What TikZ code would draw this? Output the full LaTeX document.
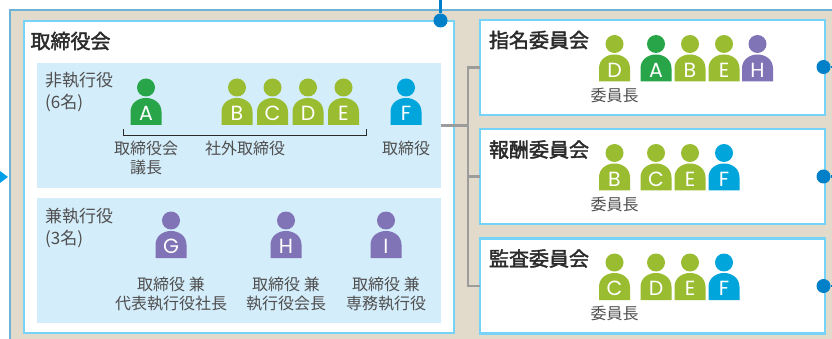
\documentclass[tikz,border=0pt]{standalone}
\usepackage{fontspec}
\setmainfont{Noto Sans CJK JP}
\newfontfamily\titlefont[FakeBold=2]{Noto Sans CJK JP}
\newfontfamily\letterfont{Poppins}
\definecolor{beige}{HTML}{E2DBCB}
\definecolor{edgeblue}{HTML}{6DB3D8}
\definecolor{frameblue}{HTML}{74D3F6}
\definecolor{panelblue}{HTML}{D4EDFA}
\definecolor{dotblue}{HTML}{0080C8}
\definecolor{arrowblue}{HTML}{00A0E9}
\definecolor{linegrey}{HTML}{9C9C9C}
\definecolor{txtgrey}{HTML}{4F4F4F}
\definecolor{txtdark}{HTML}{2B2B2B}
\definecolor{pgreen}{HTML}{28A548}
\definecolor{plime}{HTML}{99BC31}
\definecolor{pcyan}{HTML}{00A5DB}
\definecolor{ppurple}{HTML}{8073B6}
\tikzset{
  framebox/.style={draw=frameblue,line width=2.4pt,fill=white,minimum width=#1,inner sep=0pt,outer sep=0pt},
  panelbox/.style={fill=panelblue,draw=none,minimum width=404pt,inner sep=0pt,outer sep=0pt},
  title/.style={font=\titlefont\fontsize{20}{24}\selectfont,text=txtdark,inner sep=0pt},
  label/.style={font=\fontsize{16}{20}\selectfont,text=txtgrey,inner sep=0pt,align=center},
  grouplabel/.style={font=\fontsize{17}{22}\selectfont,text=txtgrey,inner sep=0pt,align=left,anchor=north west},
  letter/.style={font=\letterfont\fontsize{20.5}{22}\selectfont,text=white,inner sep=0pt},
  link/.style={draw=linegrey,line width=2.3pt},
  dot/.style={circle,fill=dotblue,minimum size=14pt,inner sep=0pt,outer sep=0pt},
  feed/.style={draw=dotblue,line width=2.2pt},
  bracket/.style={draw=txtdark,line width=0.9pt}
}
% name, x, y of body bottom, letter, colour
\newcommand{\person}[5]{%
  \fill[#5] (#2,#3-37.5) circle[radius=9];
  \fill[#5] (#2-15.5,#3) -- (#2-15.5,#3-13) .. controls (#2-15.5,#3-22) and (#2-8,#3-27) .. (#2,#3-27)
     .. controls (#2+8,#3-27) and (#2+15.5,#3-22) .. (#2+15.5,#3-13) -- (#2+15.5,#3) -- cycle;
  \node[letter] (#1) at (#2,#3-11.5) {#4};
}
\begin{document}
\begin{tikzpicture}[x=1pt,y=-1pt]
\useasboundingbox (0,0) rectangle (832,339);
\fill[beige] (10,10) rectangle (832,339);
\draw[edgeblue,line width=1.3pt] (832,10) -- (10,10) -- (10,339);
% boxes
\node[framebox=430pt,minimum height=312pt] (board) at (239,177) {};
\node[framebox=345pt,minimum height=95pt] (nom) at (652.5,67.5) {};
\node[framebox=345pt,minimum height=95pt] (pay) at (652.5,176.5) {};
\node[framebox=345pt,minimum height=95pt] (audit) at (652.5,286) {};
\node[panelbox,minimum height=125pt] (panelA) at (239,125.5) {};
\node[panelbox,minimum height=125pt] (panelB) at (239,260.5) {};
% connectors
\coordinate (trunk) at (468,125.5);
\draw[link] (panelA.east) -- (trunk);
\draw[link] (nom.west) -- (trunk |- nom.west) -- (trunk |- audit.west) -- (audit.west);
\draw[link] (pay.west) -- (trunk |- pay.west);
% dots and feeds
\coordinate (topend) at (440.5,0);
\node[dot] (dotTop) at (440.5,20.5) {};
\draw[feed] (topend) -- (dotTop);
\node[dot] (dotNom) at (823.5,67) {};
\node[dot] (dotPay) at (823.5,176.5) {};
\node[dot] (dotAudit) at (823.5,286) {};
\coordinate (endNom) at (832,67);
\coordinate (endPay) at (832,176.5);
\coordinate (endAudit) at (832,286);
\draw[feed] (dotNom) -- (endNom);
\draw[feed] (dotPay) -- (endPay);
\draw[feed] (dotAudit) -- (endAudit);
\fill[arrowblue] (0,171) -- (8,177) -- (0,183) -- cycle;
% titles
\node[title] (tBoard) at (70.5,41) {取締役会};
\node[title] (tNom) at (539,40) {指名委員会};
\node[title] (tPay) at (539,149.5) {報酬委員会};
\node[title] (tAudit) at (539,258.5) {監査委員会};
\node[grouplabel] (gA) at (45,72.5) {非執行役\\(6名)};
\node[grouplabel] (gB) at (45,207.5) {兼執行役\\(3名)};
% people in the board
\person{pA}{146}{125}{A}{pgreen}
\person{pB}{237}{125}{B}{plime}
\person{pC}{272.5}{125}{C}{plime}
\person{pD}{308}{125}{D}{plime}
\person{pE}{343.5}{125}{E}{plime}
\person{pF}{406}{125}{F}{pcyan}
\person{pG}{171}{258}{G}{ppurple}
\person{pH}{286}{258}{H}{ppurple}
\person{pI}{386}{258}{I}{ppurple}
\coordinate (brL) at (123.5,129);
\coordinate (brR) at (366,129);
\draw[bracket] (brL) -- ++(0,6.5) -| (brR);
\node[label] (lA) at (146,158) {取締役会\\[-1pt]議長};
\node[label] (lOut) at (245,148) {社外取締役};
\node[label] (lF) at (406,148) {取締役};
\node[label] (lG) at (171,294) {取締役 兼\\[-1pt]代表執行役社長};
\node[label] (lH) at (286,294) {取締役 兼\\[-1pt]執行役会長};
\node[label] (lI) at (386,294) {取締役 兼\\[-1pt]専務執行役};
% committees
\person{nD}{614.5}{81.5}{D}{plime}
\person{nA}{656}{81.5}{A}{pgreen}
\person{nB}{690}{81.5}{B}{plime}
\person{nE}{724}{81.5}{E}{plime}
\person{nH}{757.5}{81.5}{H}{ppurple}
\node[label] (lNom) at (614.5,95) {委員長};
\person{yB}{614.5}{190.5}{B}{plime}
\person{yC}{656}{190.5}{C}{plime}
\person{yE}{690}{190.5}{E}{plime}
\person{yF}{724}{190.5}{F}{pcyan}
\node[label] (lPay) at (614.5,204) {委員長};
\person{aC}{614.5}{300}{C}{plime}
\person{aD}{656}{300}{D}{plime}
\person{aE}{690}{300}{E}{plime}
\person{aF}{724}{300}{F}{pcyan}
\node[label] (lAudit) at (614.5,313) {委員長};
\end{tikzpicture}
\end{document}
